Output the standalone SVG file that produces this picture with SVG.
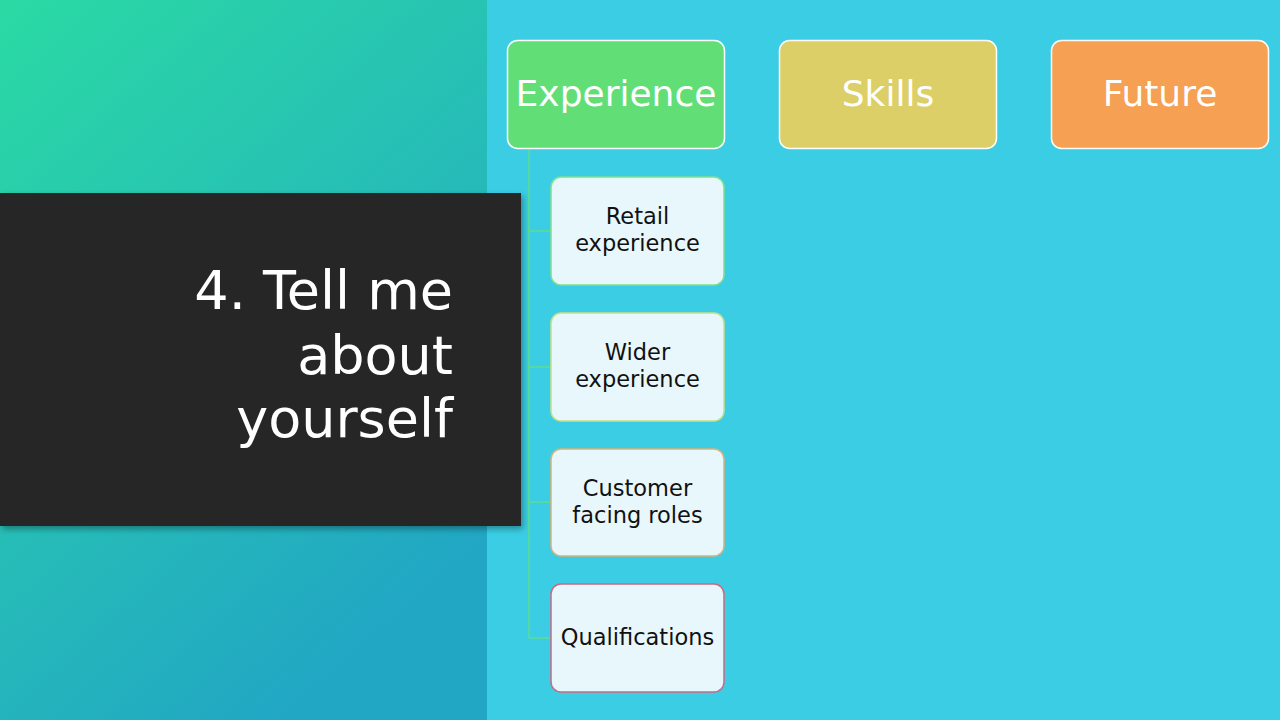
<svg xmlns="http://www.w3.org/2000/svg" width="1280" height="720" viewBox="0 0 1280 720">
<defs>
<linearGradient id="bgL" x1="0" y1="0" x2="0.6" y2="1">
<stop offset="0" stop-color="#2adaa3"/>
<stop offset="0.5" stop-color="#27c0b5"/>
<stop offset="1" stop-color="#21a6c4"/>
</linearGradient>
<filter id="sh" x="-5%" y="-5%" width="115%" height="115%">
<feDropShadow dx="2" dy="3" stdDeviation="3" flood-color="#000" flood-opacity="0.35"/>
</filter>
<style>
.top{font-family:"DejaVu Sans","Noto Sans",sans-serif;font-size:36px;fill:#ffffff;text-anchor:middle}
.sub{font-family:"DejaVu Sans","Noto Sans",sans-serif;font-size:22.5px;fill:#111111;text-anchor:middle}
.child{fill:#e8f7fb;stroke-width:1.5}
.head{stroke:#ffffff;stroke-width:1.5}
.conn{stroke:#5fdc8a;stroke-width:1.5;fill:none}
.title{font-family:"DejaVu Sans","Noto Sans",sans-serif;font-size:54px;fill:#ffffff;text-anchor:end}
</style>
</defs>
<rect x="0" y="0" width="1280" height="720" fill="#3acde4"/>
<rect x="0" y="0" width="487" height="720" fill="url(#bgL)"/>
<rect x="0" y="193" width="521" height="333" fill="#262626" filter="url(#sh)"/>
<g id="title">
<text class="title" x="453" y="309">4. Tell me</text>
<text class="title" x="453" y="374">about</text>
<text class="title" x="453" y="437">yourself</text>
</g>
<g id="connectors">
<path class="conn" d="M529,149 V638 M529,231 H551 M529,367 H551 M529,502 H551 M529,638 H551"/>
</g>
<g id="experience">
<rect class="head" x="507.5" y="40.5" width="217" height="108" rx="10" fill="#62de76"/>
<text class="top" x="616" y="106">Experience</text>
</g>
<g id="skills">
<rect class="head" x="779.5" y="40.5" width="217" height="108" rx="10" fill="#dccf68"/>
<text class="top" x="888" y="106">Skills</text>
</g>
<g id="future">
<rect class="head" x="1051.5" y="40.5" width="217" height="108" rx="10" fill="#f5a053"/>
<text class="top" x="1160" y="106">Future</text>
</g>
<g id="retail">
<rect class="child" x="551" y="177" width="173" height="108" rx="10" stroke="#7fe08e"/>
<text class="sub" x="637.5" y="224">Retail</text>
<text class="sub" x="637.5" y="251">experience</text>
</g>
<g id="wider">
<rect class="child" x="551" y="313" width="173" height="108" rx="10" stroke="#c9df86"/>
<text class="sub" x="637.5" y="360">Wider</text>
<text class="sub" x="637.5" y="387">experience</text>
</g>
<g id="customer">
<rect class="child" x="551" y="449" width="173" height="107" rx="10" stroke="#d9b27a"/>
<text class="sub" x="637.5" y="496">Customer</text>
<text class="sub" x="637.5" y="523">facing roles</text>
</g>
<g id="qualifications">
<rect class="child" x="551" y="584" width="173" height="108" rx="10" stroke="#c96a86"/>
<text class="sub" x="637.5" y="645">Qualifications</text>
</g>
</svg>
